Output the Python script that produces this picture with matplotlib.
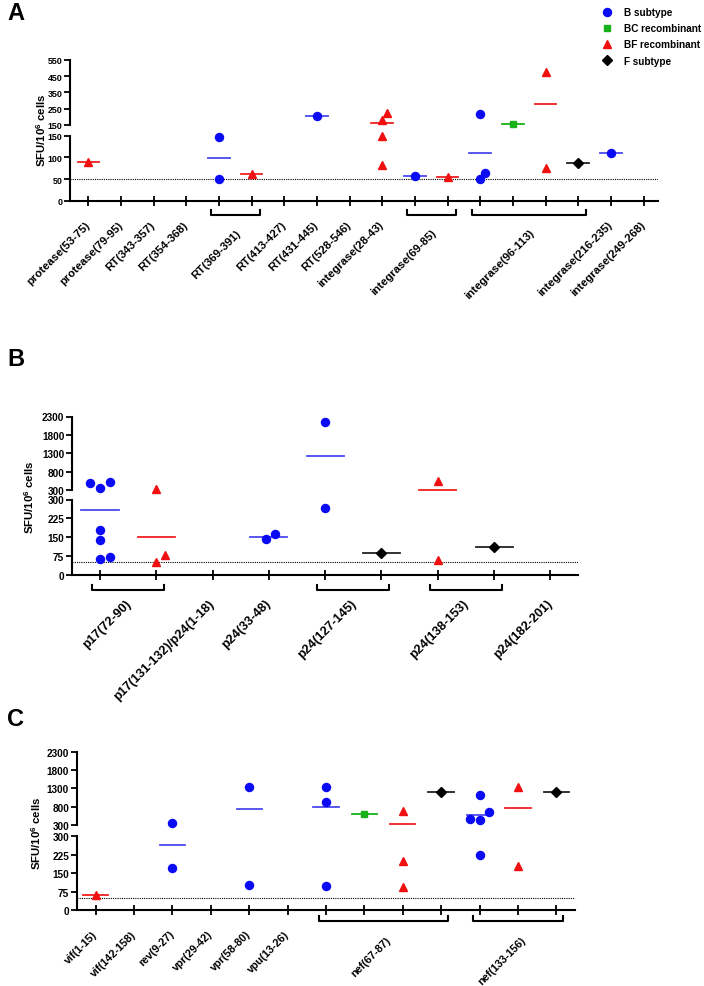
import numpy as np
import matplotlib
matplotlib.use('Agg')
import matplotlib.pyplot as plt
from matplotlib.lines import Line2D
import matplotlib.transforms as mtransforms

plt.rcParams['font.family'] = ['Liberation Sans', 'DejaVu Sans']
plt.rcParams['font.weight'] = 'bold'
plt.rcParams['mathtext.fontset'] = 'custom'
plt.rcParams['mathtext.rm'] = 'Liberation Sans:bold'
plt.rcParams['mathtext.bf'] = 'Liberation Sans:bold'
plt.rcParams['axes.linewidth'] = 1.5

# ---------------- data ----------------
SUBTYPES = ['B', 'BC', 'BF', 'F']
SUB_LABELS = ['B subtype', 'BC recombinant', 'BF recombinant', 'F subtype']
SUB_COLORS = {'B': '#0a0af5', 'BC': '#19b019', 'BF': '#f01010', 'F': '#000000'}
SUB_LINE_COLORS = {'B': '#4a4af0', 'BC': '#19b019', 'BF': '#f02020', 'F': '#222222'}
SUB_MARKERS = {'B': 'o', 'BC': 's', 'BF': '^', 'F': 'D'}
SUB_MS = {'B': 5.8, 'BC': 5.0, 'BF': 5.8, 'F': 4.8}

# Panel A
A_peptides = ['protease(53-75)', 'protease(79-95)', 'RT(343-357)', 'RT(354-368)',
              'RT(369-391)', 'RT(413-427)', 'RT(431-445)', 'RT(528-546)',
              'integrase(28-43)', 'integrase(69-85)', 'integrase(96-113)',
              'integrase(216-235)', 'integrase(249-268)']
A_group_sizes = [1, 1, 1, 1, 2, 1, 1, 1, 1, 2, 4, 1, 1]
A_slot_subtype = ['BF', None, None, None, 'B', 'BF', None, 'B', None, 'BF',
                  'B', 'BF', 'B', 'BC', 'BF', 'F', 'B', None]
A_slot_values = [[90], [], [], [], [148, 50], [62], [], [205], [],
                 [222, 181, 150, 83], [56], [55], [216, 50, 65], [155],
                 [477, 75], [87], [111], []]
A_slot_jitter = [[0], [], [], [], [0, 0], [0], [], [0], [],
                 [0.14, 0, 0, 0], [0], [0], [0, 0, 0.14], [0],
                 [0, 0], [0], [0], []]
A_break = 150
A_upper_ticks = [150, 250, 350, 450, 550]
A_lower_ticks = [0, 50, 100, 150]

# Panel B
B_peptides = ['p17(72-90)', 'p17(131-132)/p24(1-18)', 'p24(33-48)',
              'p24(127-145)', 'p24(138-153)', 'p24(182-201)']
B_group_sizes = [2, 1, 1, 2, 2, 1]
B_slot_subtype = ['B', 'BF', None, 'B', 'B', 'F', 'BF', 'F', None]
B_slot_values = [[491, 346, 526, 180, 139, 63, 72], [318, 52, 79], [],
                 [142, 161], [2161, 266], [86], [545, 58], [110], []]
B_slot_jitter = [[-0.18, 0, 0.17, 0, 0, 0, 0.17], [0, 0, 0.15], [],
                 [-0.06, 0.1], [0, 0], [0], [0, 0], [0], []]
B_break = 300
B_upper_ticks = [300, 800, 1300, 1800, 2300]
B_lower_ticks = [0, 75, 150, 225, 300]

# Panel C
C_peptides = ['vif(1-15)', 'vif(142-158)', 'rev(9-27)', 'vpr(29-42)',
              'vpr(58-80)', 'vpu(13-26)', 'nef(67-87)', 'nef(133-156)']
C_group_sizes = [1, 1, 1, 1, 1, 1, 4, 3]
C_slot_subtype = ['BF', None, 'B', None, 'B', None, 'B', 'BC', 'BF', 'F',
                  'B', 'BF', 'F']
C_slot_values = [[61], [], [355, 172], [], [1336, 103], [],
                 [1336, 924, 96], [586], [676, 198, 92], [1207],
                 [1116, 649, 448, 421, 225], [1344, 180], [1190]]
C_slot_jitter = [[0], [], [0, 0], [], [0, 0], [],
                 [0, 0, 0], [0], [0, 0, 0], [0],
                 [0, 0.25, -0.25, 0, 0], [0, 0], [0]]
C_break = 300
C_upper_ticks = [300, 800, 1300, 1800, 2300]
C_lower_ticks = [0, 75, 150, 225, 300]

# ---------------- figure ----------------
W, H = 704, 987
fig = plt.figure(figsize=(W / 100, H / 100), dpi=100)


def px_axes(left, top, right, bottom):
    return fig.add_axes([left / W, 1 - bottom / H, (right - left) / W, (bottom - top) / H])


def panel(geom, peptides, sizes, subs, vals, jits, brk, up_ticks, lo_ticks,
          tick_fs, lab_fs, br_drop, br_pad_px, single_drop, group_drop, group_dx):
    left, right, up_top, up_bot, lo_top, lo_bot, first_tick, spacing = geom
    n = len(subs)
    xl = (left - first_tick) / spacing
    xr = (right - first_tick) / spacing
    axU = px_axes(left, up_top, right, up_bot)
    axL = px_axes(left, lo_top, right, lo_bot)
    for ax in (axU, axL):
        ax.set_xlim(xl, xr)
        ax.patch.set_alpha(0)
        ax.spines['top'].set_visible(False)
        ax.spines['right'].set_visible(False)
        ax.tick_params(axis='y', direction='out', length=4.5, width=1.3,
                       labelsize=tick_fs, pad=1)
    axU.set_ylim(brk, up_ticks[-1])
    axU.set_yticks(up_ticks)
    axU.spines['bottom'].set_visible(False)
    axU.tick_params(axis='x', bottom=False, labelbottom=False)
    axL.set_ylim(0, brk)
    axL.set_yticks(lo_ticks)
    axL.set_xticks(range(n))
    axL.set_xticklabels([])
    axL.tick_params(axis='x', direction='inout', length=7.5, width=1.3)
    axL.axhline(50, color='black', ls=(0, (1, 1)), lw=0.8, zorder=1)

    for i, (sub, v, jt) in enumerate(zip(subs, vals, jits)):
        if sub is None or len(v) == 0:
            continue
        m = float(np.mean(v))
        axm = axU if m > brk else axL
        axm.plot([i - 0.33, i + 0.33], [m, m], color=SUB_LINE_COLORS[sub],
                 lw=1.3, clip_on=False, zorder=2)
        for val, j in zip(v, jt):
            axp = axU if val > brk else axL
            axp.plot([i + j], [val], ls='none', marker=SUB_MARKERS[sub],
                     color=SUB_COLORS[sub], ms=SUB_MS[sub], mec=SUB_COLORS[sub],
                     clip_on=False, zorder=3)

    hpx = lo_bot - lo_top
    trans = mtransforms.blended_transform_factory(axL.transData, axL.transAxes)
    pos = 0
    pad = br_pad_px / spacing
    for pep, g in zip(peptides, sizes):
        if g > 1:
            xa, xb = pos - pad, pos + g - 1 + pad
            yb = -br_drop / hpx
            yh = -(br_drop - 5) / hpx
            axL.add_line(Line2D([xa, xa, xb, xb], [yh, yb, yb, yh], color='black',
                                lw=1.5, transform=trans, clip_on=False))
            xc = pos + (g - 1) / 2 + group_dx / spacing
            d = group_drop
        else:
            xc = pos
            d = single_drop
        axL.text(xc, -d / hpx, pep, transform=trans, rotation=45, ha='right',
                 va='center', rotation_mode='anchor', fontsize=lab_fs,
                 fontweight='bold')
        pos += g
    return axU, axL


# Panel A
panel((70, 658, 61, 125.7, 136.7, 201.7, 88.3, 32.66), A_peptides, A_group_sizes,
      A_slot_subtype, A_slot_values, A_slot_jitter, A_break, A_upper_ticks,
      A_lower_ticks, 6.4, 8.2, 14, 8, 22, 30, 4)
# Panel B
panel((72, 578, 417.5, 491, 500.5, 576, 100, 56.3), B_peptides, B_group_sizes,
      B_slot_subtype, B_slot_values, B_slot_jitter, B_break, B_upper_ticks,
      B_lower_ticks, 7.2, 9.2, 15, 8, 26, 26, 1)
# Panel C
panel((76.7, 575, 753, 825.7, 837.3, 911, 95.7, 38.38), C_peptides, C_group_sizes,
      C_slot_subtype, C_slot_values, C_slot_jitter, C_break, C_upper_ticks,
      C_lower_ticks, 7.2, 7.8, 11, 7, 22, 28, 6)

# y labels
ylab = r'SFU/10$^{6}$ cells'
for (xp, yp) in [(41, 130), (29, 497), (36, 833)]:
    fig.text(xp / W, 1 - yp / H, ylab, rotation=90, ha='center', va='center',
             fontsize=8.2, fontweight='bold')

# panel letters
for letter, (xp, yp) in zip('ABC', [(16, 14), (16, 360), (16, 720)]):
    fig.text(xp / W, 1 - yp / H, letter, ha='center', va='center',
             fontsize=17, fontweight='bold')

# legend
handles = [Line2D([], [], ls='none', marker=SUB_MARKERS[s], color=SUB_COLORS[s],
                  ms=SUB_MS[s]) for s in SUBTYPES]
fig.legend(handles, SUB_LABELS, loc='upper left',
           bbox_to_anchor=(602 / W, 1 - 8 / H), frameon=False,
           handlelength=1.0, handletextpad=1.2, labelspacing=0.62,
           borderpad=0, borderaxespad=0, prop={'weight': 'bold', 'size': 7.2})

fig.savefig('out.png', dpi=100)
